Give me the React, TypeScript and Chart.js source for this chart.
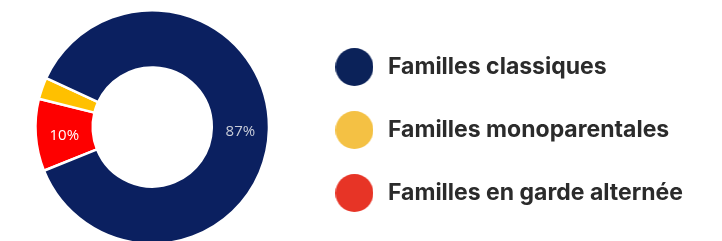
import { useEffect, useRef } from 'react';
import { Chart, registerables } from 'chart.js';

Chart.register(...registerables);

const categories = ['Familles en garde alternée', 'Familles monoparentales', 'Familles classiques'];
const shares = [10, 3, 87];
const valueLabels = ['10%', '', '87%'];
const sliceColors = ['#fe0000', '#ffc000', '#0b2060'];
const legendColors = ['#e73426', '#f4c144', '#0b2259'];
const valueLabelColors = ['#ffffff', '#ffffff', '#c9cdd8'];

export default function App() {
  const ref = useRef<HTMLCanvasElement>(null);

  useEffect(() => {
    const canvas = ref.current!;
    const FONT = 23;
    const FAMILY = 'Inter';
    const BOX = 44;
    const PAD = 40;
    const mctx = canvas.getContext('2d')!;
    mctx.font = `bold ${FONT}px ${FAMILY}`;
    const textW = Math.max(...categories.map((c) => mctx.measureText(c).width));
    const legendW = PAD + BOX + FONT / 2 + textW + 10;
    const W = Math.round(280 + legendW);
    const H = 236;
    canvas.width = W;
    canvas.height = H;
    canvas.style.width = W + 'px';
    canvas.style.height = H + 'px';

    const dots = legendColors.map((col) => {
      const d = document.createElement('canvas');
      d.width = 38;
      d.height = 38;
      const c = d.getContext('2d')!;
      c.fillStyle = col;
      c.beginPath();
      c.arc(19, 19, 19, 0, Math.PI * 2);
      c.fill();
      return d;
    });

    const valueLabelPlugin = {
      id: 'valueLabels',
      afterDatasetsDraw(chart: any) {
        const ctx = chart.ctx;
        const meta = chart.getDatasetMeta(0);
        ctx.save();
        ctx.font = '15px "Open Sans"';
        ctx.textAlign = 'center';
        ctx.textBaseline = 'middle';
        meta.data.forEach((arc: any, i: number) => {
          if (!valueLabels[i]) return;
          const p = arc.tooltipPosition();
          ctx.fillStyle = valueLabelColors[i];
          ctx.fillText(valueLabels[i], p.x, p.y + 3);
        });
        ctx.restore();
      },
    };

    const chart = new Chart(canvas, {
      type: 'doughnut',
      data: {
        labels: categories,
        datasets: [
          {
            data: shares,
            backgroundColor: sliceColors,
            borderColor: '#ffffff',
            borderWidth: 2.5,
            hoverOffset: 0,
          },
        ],
      },
      options: {
        responsive: false,
        animation: false,
        devicePixelRatio: 1,
        cutout: '51%',
        rotation: 248,
        layout: { padding: 0 },
        plugins: {
          tooltip: { enabled: false },
          legend: {
            position: 'right',
            reverse: true,
            maxWidth: 800,
            title: { display: true, text: ' ', padding: 0, font: { size: 5 } },
            labels: {
              usePointStyle: true,
              pointStyleWidth: BOX,
              padding: PAD,
              color: '#2b2b2b',
              font: { size: FONT, family: FAMILY, weight: 'bold' },
              generateLabels: () =>
                categories.map((c, i) => ({
                  text: c,
                  fillStyle: legendColors[i],
                  strokeStyle: legendColors[i],
                  lineWidth: 0,
                  pointStyle: dots[i] as any,
                  hidden: false,
                  index: i,
                  fontColor: '#2b2b2b',
                })),
            },
          },
        },
      },
      plugins: [valueLabelPlugin],
    });
    return () => chart.destroy();
  }, []);

  return (
    <div
      style={{
        position: 'fixed',
        left: 0,
        top: 0,
        width: 722,
        height: 241,
        overflow: 'hidden',
        background: '#ffffff',
      }}
    >
      <canvas ref={ref} style={{ position: 'absolute', left: 12, top: 9 }} />
    </div>
  );
}
